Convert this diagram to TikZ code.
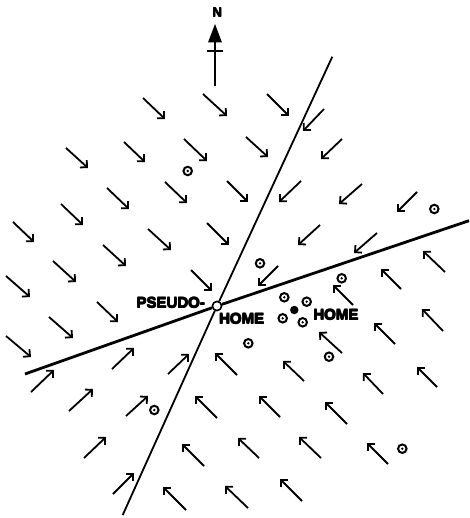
\documentclass[tikz,border=0pt]{standalone}
\usepackage{fontspec}
\setmainfont{Liberation Sans}
\usetikzlibrary{arrows.meta}
\newcommand\fattext[1]{\leavevmode\rlap{#1}\rlap{\kern0.7pt #1}\rlap{\raisebox{0.5pt}{#1}}\kern0.7pt\raisebox{0.5pt}{#1}}
\tikzset{
  vec/.style={-{Straight Barb[length=5pt,width=10pt]}, line width=1.8pt},
  site/.style={circle, draw, line width=2pt, minimum size=8.5pt, inner sep=0pt,
    path picture={\fill (path picture bounding box.center) circle (1.3pt);}},
  fullsite/.style={circle, fill, minimum size=8.5pt, inner sep=0pt},
  lbl/.style={font=\bfseries\fontsize{15}{15}\selectfont, inner sep=0pt}
}
\begin{document}
\begin{tikzpicture}[x=1pt,y=-1pt]
\useasboundingbox (0,0) rectangle (469,518);
% pseudo-home
\node[circle, draw, fill=white, line width=1.5pt, minimum size=9pt, inner sep=0pt] (ph) at (217,306) {};
\coordinate (s1) at (332.3,56.7);
\coordinate (s2) at (122.7,515);
\coordinate (h1) at (25,374);
\coordinate (h2) at (469,220.7);
\draw[line width=1.8pt] (s1) -- (ph) -- (s2);
\draw[line width=2.8pt] (h1) -- (ph) -- (h2);
\node[circle, draw, fill=white, line width=1.5pt, minimum size=9pt, inner sep=0pt] at (ph) {};
% north arrow
\coordinate (nb) at (215,86);
\coordinate (nt) at (215,40);
\draw[line width=1.8pt] (nb) -- (nt);
\fill (215,24) -- (222,42.5) -- (208,42.5) -- cycle;
\draw[line width=1.8pt] (206.7,50.7) -- (222.7,50.7);
\node[font=\bfseries\fontsize{13}{13}\selectfont, inner sep=0pt] (n) at (217.3,12.3) {\fattext{N}};
% SE arrows
\foreach \a/\b/\c/\d in {143/98/165/119, 203/94/227/116, 267/94/289/116,
  66/148/88/168, 124/142/145/162, 184/139/207/161, 246/137/268/157,
  107/188/129/209, 165/182/187/203, 227/181/248/202,
  61/204/83/225, 13/222/34/242, 148/229/171/250, 207/223/229/245,
  103/245/126/266, 53/261/76/282, 191/270/212/291,
  6/276/30/297, 97/302/118/322, 49/317/73/338, 6/336/31/357}
  \draw[vec] (\a,\b) -- (\c,\d);
% SW arrows
\foreach \a/\b/\c/\d in {324/109/303/131, 342/139/321/159,
  301/181/279/202, 362/184/339/204, 417/192/397/212,
  320/225/298/245, 377/233/354/253, 278/266/258/286}
  \draw[vec] (\a,\b) -- (\c,\d);
% NW arrows
\foreach \a/\b/\c/\d in {445/272/423/251, 401/289/381/269, 353/305/333/285,
  443/331/422/309, 395/344/374/323, 342/353/319/332,
  304/381/283/361, 383/394/363/373, 437/387/417/367,
  280/417/259/396, 347/424/325/402, 259/458/238/438,
  321/458/299/437, 388/464/367/443, 302/501/280/479,
  248/508/225/486, 237/375/215/353, 217/418/195/396,
  204/466/182/444, 186/510/163/487}
  \draw[vec] (\a,\b) -- (\c,\d);
% NE arrows
\foreach \a/\b/\c/\d in {112/369/134/348, 31/392/54/370, 168/374/189/354,
  69/411/93/389, 126/416/148/396, 84/458/106/437, 113/494/134/473}
  \draw[vec] (\a,\b) -- (\c,\d);
% sites
\node[site] (d1) at (187.7,171) {};
\node[site] (d2) at (434.3,209) {};
\node[site] (d3) at (260,263.3) {};
\node[site] (d4) at (341.7,278.3) {};
\node[site] (d5) at (284.3,297.3) {};
\node[site] (d6) at (306.7,301.7) {};
\node[site] (d7) at (282.7,318.3) {};
\node[site] (d8) at (302.7,322.3) {};
\node[site] (d9) at (248.3,343.3) {};
\node[site] (d10) at (329,356.7) {};
\node[site] (d11) at (402.3,448.7) {};
\node[site] (d12) at (154.3,410) {};
\node[fullsite] (home) at (294.3,310) {};
% labels
\node[lbl] (pl1) at (170.8,303) {\fattext{PSEUDO-}};
\node[lbl] (pl2) at (241.7,318.8) {\fattext{HOME}};
\node[lbl] (hl) at (336,315) {\fattext{HOME}};
\end{tikzpicture}
\end{document}
